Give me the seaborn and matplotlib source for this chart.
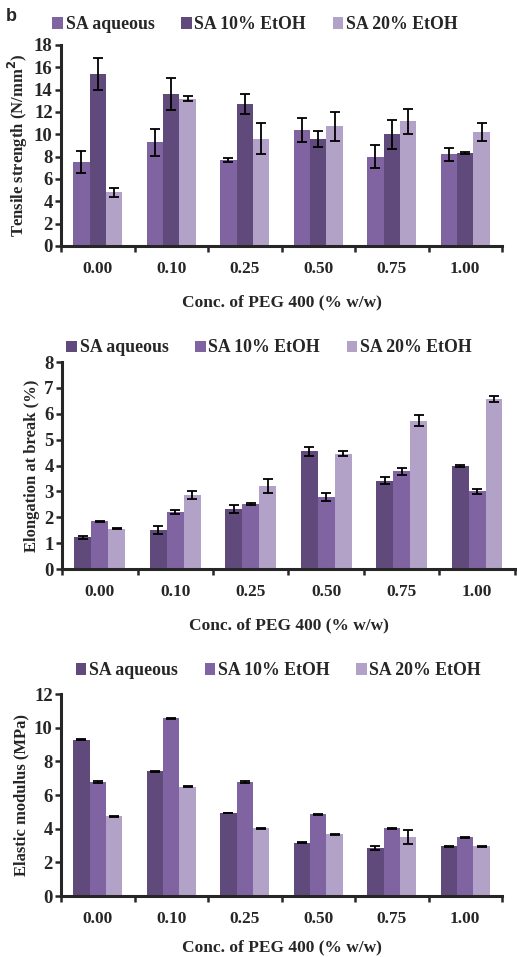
import numpy as np
import pandas as pd
import seaborn as sns
import matplotlib.pyplot as plt
from matplotlib.ticker import MultipleLocator, FixedLocator

# categories / series
conc = ["0.00", "0.10", "0.25", "0.50", "0.75", "1.00"]
series = ["SA aqueous", "SA 10% EtOH", "SA 20% EtOH"]

# tensile strength (N/mm2), mean and error per series
ts_aq = [7.5, 9.3, 7.7, 10.4, 8.0, 8.2]
ts_aq_err = [1.0, 1.2, 0.2, 1.05, 1.0, 0.55]
ts_10 = [15.4, 13.6, 12.7, 9.6, 10.0, 8.3]
ts_10_err = [1.4, 1.4, 0.9, 0.7, 1.3, 0.1]
ts_20 = [4.8, 13.2, 9.6, 10.7, 11.15, 10.2]
ts_20_err = [0.4, 0.2, 1.4, 1.3, 1.1, 0.8]

# elongation at break (%)
el_aq = [1.22, 1.5, 2.33, 4.55, 3.42, 3.97]
el_aq_err = [0.05, 0.15, 0.15, 0.18, 0.12, 0.04]
el_10 = [1.85, 2.2, 2.5, 2.77, 3.78, 3.0]
el_10_err = [0.02, 0.08, 0.04, 0.16, 0.13, 0.1]
el_20 = [1.55, 2.87, 3.2, 4.45, 5.73, 6.57]
el_20_err = [0.02, 0.15, 0.28, 0.1, 0.22, 0.1]

# elastic modulus (MPa)
em_aq = [9.27, 7.42, 4.93, 3.17, 2.85, 2.95]
em_aq_err = [0.03, 0.03, 0.02, 0.02, 0.1, 0.03]
em_10 = [6.78, 10.55, 6.75, 4.85, 4.03, 3.48]
em_10_err = [0.05, 0.02, 0.06, 0.03, 0.02, 0.03]
em_20 = [4.73, 6.5, 4.02, 3.67, 3.5, 2.95]
em_20_err = [0.05, 0.05, 0.02, 0.03, 0.4, 0.02]

DARK = "#604a7b"
MID = "#8064a2"
LIGHT = "#b3a2c7"

sns.set_style("ticks")
plt.rcParams["font.family"] = ["Liberation Serif", "DejaVu Serif"]
plt.rcParams["font.weight"] = "bold"


def long_df(vals):
    rows = []
    for s, v in zip(series, vals):
        for c, y in zip(conc, v):
            rows.append({"conc": c, "series": s, "value": y})
    return pd.DataFrame(rows)


def draw(ax, vals, errs, colors, ylabel, ymax, step, leg_xy, xpad=12):
    df = long_df(vals)
    sns.barplot(data=df, x="conc", y="value", hue="series", order=conc,
                hue_order=series, palette=colors, width=0.67, gap=0,
                errorbar=None, saturation=1, ax=ax, linewidth=0)
    # error bars placed on the drawn bars
    for cont, err in zip(ax.containers, errs):
        xs = [p.get_x() + p.get_width() / 2 for p in cont.patches]
        hs = [p.get_height() for p in cont.patches]
        ax.errorbar(xs, hs, yerr=err, fmt="none", ecolor="black",
                    elinewidth=1.3, capsize=3.5, capthick=1.3, zorder=5)
    ax.set_xlim(-0.5, 5.5)
    ax.set_ylim(0, ymax)
    ax.yaxis.set_major_locator(MultipleLocator(step))
    ax.xaxis.set_minor_locator(FixedLocator(np.arange(-0.5, 6, 1)))
    ax.tick_params(axis="x", which="major", length=0, pad=11, labelsize=12.5)
    ax.tick_params(axis="x", which="minor", length=4, width=1.8, direction="out")
    ax.tick_params(axis="y", length=4, width=1.8, labelsize=13.5, pad=2)
    for lab in ax.get_xticklabels() + ax.get_yticklabels():
        lab.set_fontweight("bold")
    for s in ["top", "right"]:
        ax.spines[s].set_visible(False)
    for s in ["left", "bottom"]:
        ax.spines[s].set_linewidth(2.2)
    ax.set_ylabel(ylabel, fontsize=12, fontweight="bold", labelpad=3)
    ax.set_xlabel("Conc. of PEG 400 (% w/w)", fontsize=12.5, fontweight="bold",
                  labelpad=xpad)
    ax.legend(loc="center", bbox_to_anchor=leg_xy, ncol=3,
              frameon=False, handlelength=0.6, handleheight=0.6,
              handletextpad=0.15, columnspacing=1.5,
              prop={"family": "Liberation Serif", "weight": "bold", "size": 12.8})


fig = plt.figure(figsize=(5.17, 9.57), dpi=100)
ax1 = fig.add_axes([0.118, 0.743, 0.853, 0.210])
ax2 = fig.add_axes([0.120, 0.4054, 0.876, 0.2163])
ax3 = fig.add_axes([0.118, 0.0637, 0.853, 0.2111])

draw(ax1, [ts_aq, ts_10, ts_20], [ts_aq_err, ts_10_err, ts_20_err],
     [MID, DARK, LIGHT], "Tensile strength (N/mm$^\\mathbf{2}$)", 18, 2,
     (0.44, 1.10))
draw(ax2, [el_aq, el_10, el_20], [el_aq_err, el_10_err, el_20_err],
     [DARK, MID, LIGHT], "Elongation at break (%)", 8, 1, (0.457, 1.068))
draw(ax3, [em_aq, em_10, em_20], [em_aq_err, em_10_err, em_20_err],
     [DARK, MID, LIGHT], "Elastic modulus (MPa)", 12, 2, (0.493, 1.115),
     xpad=9)

fig.text(0.012, 0.992, "b", fontsize=13, fontweight="bold",
         family="Liberation Sans", va="top", ha="left")

fig.savefig("out.png", dpi=100)
